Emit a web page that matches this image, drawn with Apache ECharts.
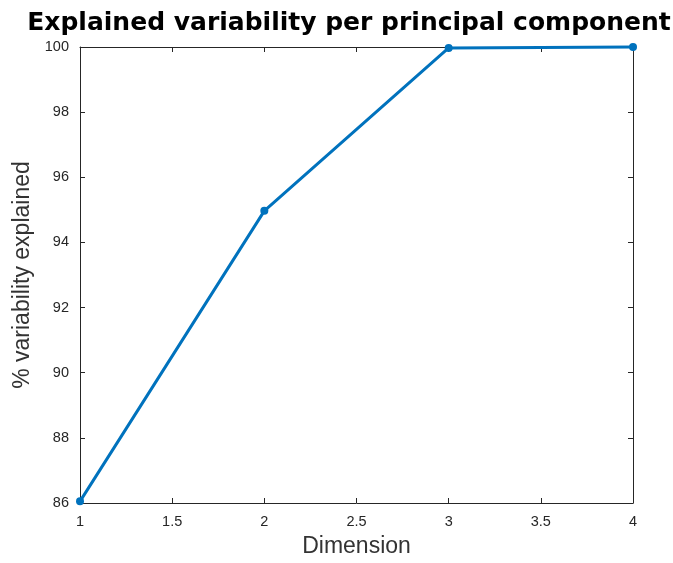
<!DOCTYPE html>
<html><head><meta charset="utf-8">
<script src="https://cdn.jsdelivr.net/npm/echarts@6/dist/echarts.min.js"></script>
<style>html,body{margin:0;padding:0;background:#fff}#c{width:673px;height:563px}</style>
</head><body><div id="c"></div>
<script>
const dims = [1, 2, 3, 4];
const explained = [86.05, 94.97, 99.97, 100.0];
const xTicks = [1, 1.5, 2, 2.5, 3, 3.5, 4];
const yTicks = [86, 88, 90, 92, 94, 96, 98, 100];

const chart = echarts.init(document.getElementById('c'));
const axisCommon = {
  axisLine: { show: true, onZero: false, lineStyle: { color: '#262626', width: 1 } },
  axisTick: { show: true, inside: true, length: 5, lineStyle: { color: '#262626' } },
  splitLine: { show: false }
};
chart.setOption({
  animation: false,
  title: {
    text: 'Explained variability per principal component',
    left: 344, textAlign: 'center', top: 6,
    textStyle: { fontFamily: 'DejaVu Sans', fontWeight: 'bold', fontSize: 25, color: '#000' }
  },
  grid: { left: 80, right: 40, top: 47, bottom: 58 },
  xAxis: [
    Object.assign({
      type: 'value', min: 1, max: 4, interval: 0.5,
      name: 'Dimension', nameLocation: 'middle', nameGap: 32,
      nameTextStyle: { fontFamily: 'Liberation Sans', fontSize: 23, color: '#333333' },
      axisLabel: { fontFamily: 'Liberation Sans', fontSize: 14.5, color: '#262626', margin: 11,
        formatter: v => xTicks.includes(v) ? String(v) : '' }
    }, axisCommon),
    Object.assign({
      type: 'value', min: 1, max: 4, interval: 0.5, position: 'top',
      axisLabel: { show: false }
    }, axisCommon)
  ],
  yAxis: [
    Object.assign({
      type: 'value', min: 86, max: 100, interval: 2,
      name: '% variability explained', nameLocation: 'middle', nameGap: 46,
      nameTextStyle: { fontFamily: 'Liberation Sans', fontSize: 23, color: '#333333' },
      axisLabel: { fontFamily: 'Liberation Sans', fontSize: 14.5, color: '#262626', margin: 11,
        formatter: v => yTicks.includes(v) ? String(v) : '' }
    }, axisCommon),
    Object.assign({
      type: 'value', min: 86, max: 100, interval: 2, position: 'right',
      axisLabel: { show: false }
    }, axisCommon)
  ],
  series: [{
    type: 'line',
    data: dims.map((d, i) => [d, explained[i]]),
    lineStyle: { color: '#0072BD', width: 3 },
    itemStyle: { color: '#0072BD' },
    symbol: 'circle', symbolSize: 8,
    clip: false
  }]
});
</script></body></html>
